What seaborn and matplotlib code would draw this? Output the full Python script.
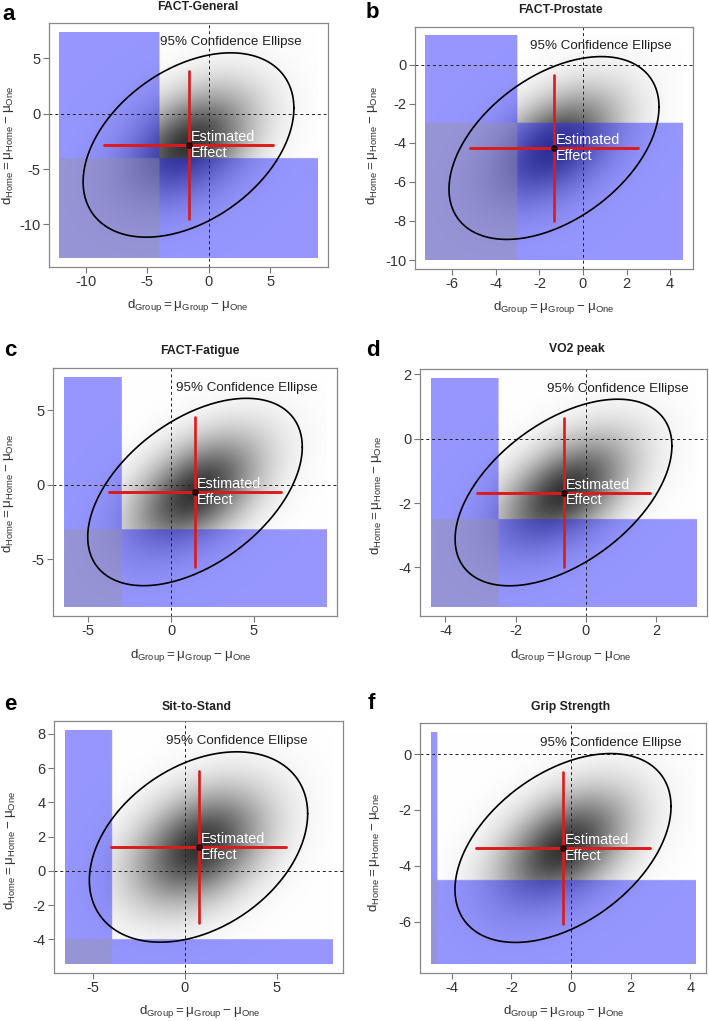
import numpy as np
import pandas as pd
import matplotlib
matplotlib.use("Agg")
import matplotlib.pyplot as plt
import seaborn as sns
from matplotlib.ticker import FixedLocator

# values
titles = ["FACT-General", "FACT-Prostate", "FACT-Fatigue", "VO2 peak", "Sit-to-Stand", "Grip Strength"]
letters = ["a", "b", "c", "d", "e", "f"]
mean_group = [-1.63, -1.33, 1.45, -0.64, 0.74, -0.27]
mean_home = [-2.83, -4.27, -0.49, -1.67, 1.39, -3.36]
sd_group = [3.50, 1.97, 2.65, 1.26, 2.43, 1.48]
sd_home = [3.40, 1.91, 2.57, 1.185, 2.27, 1.38]
rho = [0.40, 0.45, 0.48, 0.50, 0.35, 0.44]
mcid_group = [-4, -3, -3, -2.5, -4, -4.5]
mcid_home = [-4, -3, -3, -2.5, -4, -4.5]
x_step = [5, 2, 5, 2, 5, 2]
y_step = [5, 2, 5, 2, 2, 2]

# layout in pixels: axes (left, right, top, bottom)
boxes = [(49, 328, 23, 267), (415, 693, 27, 269),
         (53, 337, 368, 616), (420, 707, 369, 616),
         (54, 343, 721, 973), (420, 706, 723, 973)]
title_pos = [(198, 7), (560, 10), (200, 351), (577, 349), (197, 707), (571, 707)]
letter_pos = [(9, 14), (372, 13), (10, 350), (373, 351), (10, 705), (371, 703)]
xlab_pos = [(188, 306), (554, 307), (191, 655), (571, 655), (200, 1011), (564, 1011)]
ylab_pos = [(8, 145), (372, 145), (8, 493), (376, 495), (10, 850), (374, 852)]

W, H = 709, 1021
sns.set_style("white")
plt.rcParams["font.family"] = ["Liberation Sans", "DejaVu Sans"]
plt.rcParams["mathtext.fontset"] = "custom"
plt.rcParams["mathtext.rm"] = "Liberation Sans"
plt.rcParams["axes.unicode_minus"] = False

fig = plt.figure(figsize=(W / 100, H / 100), dpi=100)

def fx(x):
    return x / W

def fy(y):
    return 1 - y / H

def ticks_in(lo, hi, step):
    k = np.arange(np.ceil(lo / step), np.floor(hi / step) + 1)
    return k * step

c95 = np.sqrt(5.991)
blue = np.array([41, 41, 255]) / 255
lav = np.array([102, 102, 197]) / 255

for i in range(6):
    l, r, t, b = boxes[i]
    ax = fig.add_axes([fx(l), fy(b), (r - l) / W, (b - t) / H])
    mx, my = mean_group[i], mean_home[i]
    sx, sy, rr = sd_group[i], sd_home[i], rho[i]
    x0, x1 = mx - 3 * sx, mx + 3 * sx
    y0, y1 = my - 3 * sy, my + 3 * sy

    gx = np.linspace(x0, x1, 500)
    gy = np.linspace(y0, y1, 500)
    X, Y = np.meshgrid(gx, gy)
    u = (X - mx) / sx
    v = (Y - my) / sy
    dens = np.exp(-0.5 * (u * u - 2 * rr * u * v + v * v) / (1 - rr * rr))
    base = 1 - 0.8 * dens
    rgb = np.repeat(base[..., None], 3, axis=2)
    in_v = X < mcid_group[i]
    in_h = Y < mcid_home[i]
    one = in_v ^ in_h
    both = in_v & in_h
    rgb[one] = rgb[one] * 0.51 + blue * 0.49
    rgb[both] = rgb[both] * 0.31 + lav * 0.69
    ax.imshow(rgb, extent=[x0, x1, y0, y1], origin="lower", aspect="auto",
              interpolation="bilinear", zorder=0)

    ax.axvline(0, color="#222222", lw=0.7, ls=(0, (3, 3)), zorder=1)
    ax.axhline(0, color="#222222", lw=0.7, ls=(0, (3, 3)), zorder=1)

    # 95% ellipse
    tt = np.linspace(0, 2 * np.pi, 300)
    cov = np.array([[sx * sx, rr * sx * sy], [rr * sx * sy, sy * sy]])
    L = np.linalg.cholesky(cov)
    pts = np.array([[mx], [my]]) + c95 * L @ np.vstack([np.cos(tt), np.sin(tt)])
    ell = pd.DataFrame({"x": pts[0], "y": pts[1]})
    sns.lineplot(data=ell, x="x", y="y", sort=False, estimator=None,
                 color="black", lw=1.2, ax=ax, zorder=3)

    # marginal 95% intervals
    ax.plot([mx - 1.96 * sx, mx + 1.96 * sx], [my, my], color="#dd1a1a", lw=2.1, zorder=4)
    ax.plot([mx, mx], [my - 1.96 * sy, my + 1.96 * sy], color="#dd1a1a", lw=1.9, zorder=4)
    ax.plot([mx], [my], "o", ms=4, mfc="#3a0000", mec="black", mew=0.6, zorder=5)

    ax.annotate("Estimated\nEffect", (mx, my), xytext=(1.5, 0), textcoords="offset points",
                ha="left", va="center", color="white", fontsize=10.4, linespacing=1.15, zorder=6)
    ax.annotate("95% Confidence Ellipse", (mx + rr * c95 * sx, my + c95 * sy),
                xytext=(0, 7.5), textcoords="offset points", ha="center", va="center",
                color="#222222", fontsize=9.6, zorder=6)

    px = 0.04 * (x1 - x0)
    py = 0.04 * (y1 - y0)
    ax.xaxis.set_major_locator(FixedLocator(ticks_in(x0 - px / 2, x1 + px / 2, x_step[i])))
    ax.yaxis.set_major_locator(FixedLocator(ticks_in(y0 - py / 2, y1 + py / 2, y_step[i])))
    ax.set_xlim(x0 - px, x1 + px)
    ax.set_ylim(y0 - py, y1 + py)
    ax.set_xlabel("")
    ax.set_ylabel("")
    ax.tick_params(direction="out", length=4, width=0.8, color="#777777",
                   labelcolor="#333333", labelsize=10.5, pad=2, bottom=True, left=True)
    for s in ax.spines.values():
        s.set_color("#888888")
        s.set_linewidth(0.9)

    tx, ty = title_pos[i]
    fig.text(fx(tx), fy(ty), titles[i], ha="center", va="center", fontsize=8.8,
             fontweight="bold", color="#222222")
    lx, ly = letter_pos[i]
    fig.text(fx(lx), fy(ly), letters[i], ha="center", va="center", fontsize=16,
             fontweight="bold", color="black")
    xx, xy = xlab_pos[i]
    fig.text(fx(xx), fy(xy), r"$\mathregular{d_{Group} = μ_{Group} - μ_{One}}$",
             ha="center", va="center", fontsize=9.6, color="#333333")
    yx, yy = ylab_pos[i]
    fig.text(fx(yx), fy(yy), r"$\mathregular{d_{Home} = μ_{Home} - μ_{One}}$",
             ha="center", va="center", fontsize=9.6, color="#333333", rotation=90)

fig.savefig("out.png", dpi=100)
